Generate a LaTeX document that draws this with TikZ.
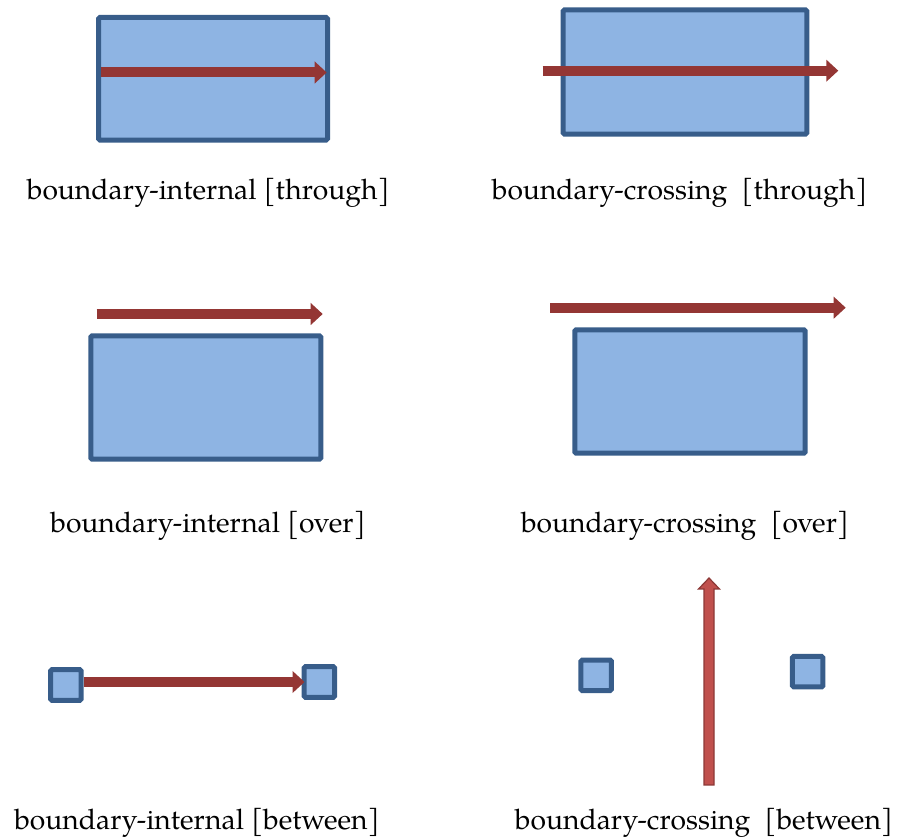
\documentclass[tikz,border=0pt]{standalone}
\usepackage{fontspec}
\setmainfont{TeX Gyre Pagella}
\usepackage{tikz}
\usetikzlibrary{calc,arrows.meta}
\definecolor{boxfill}{HTML}{8EB4E3}
\definecolor{boxline}{HTML}{385D8A}
\definecolor{flowred}{HTML}{943634}
\definecolor{uprfill}{HTML}{C0504D}
\definecolor{uprline}{HTML}{8C3836}
\tikzset{
	box/.style={draw=boxline, fill=boxfill, line width=3.75pt, rounded corners=1pt, inner sep=0pt},
	flowarrow/.style={draw=flowred, line width=7.5pt, -{Triangle[width=16pt,length=9pt]}},
	caption/.style={anchor=base, inner sep=0pt, font=\fontsize{21.2}{26}\selectfont}
}
\def\upblock[#1](#2)(#3){\draw[#1] ($(#2)+(-5,0)$) -- ($(#3)+(-5,11)$) -- ($(#3)+(-10.5,11)$) -- (#3) -- ($(#3)+(10.5,11)$) -- ($(#3)+(5,11)$) -- ($(#2)+(5,0)$) -- cycle;}

\begin{document}
\begin{tikzpicture}[x=0.75pt, y=-0.75pt]
			%%%%% START %%%%%
			
			\useasboundingbox (0, 0) rectangle (901, 837);
			
			% through
			\node[box, minimum width=171.75pt, minimum height=91.9pt] (thru in) at (213, 78.75) {};
			\coordinate (thru in a) at (100.7, 72.5);
			\coordinate (thru in b) at (326.7, 72.5);
			\draw[flowarrow] (thru in a) -- (thru in b);
			\node[caption] (cap thru in) at (208.3, 200) {boundary-internal [through]};
			
			\node[box, minimum width=182.7pt, minimum height=93.3pt] (thru cross) at (685, 72) {};
			\coordinate (thru cross a) at (542.7, 70.7);
			\coordinate (thru cross b) at (838.3, 70.7);
			\draw[flowarrow] (thru cross a) -- (thru cross b);
			\node[caption] (cap thru cross) at (679.7, 200) {boundary-crossing\ \ [through]};
			
			% over
			\coordinate (over in a) at (96.7, 314);
			\coordinate (over in b) at (322.7, 314);
			\draw[flowarrow] (over in a) -- (over in b);
			\node[box, minimum width=172.5pt, minimum height=92.55pt] (over in) at (205.8, 397.5) {};
			\node[caption] (cap over in) at (208, 533) {boundary-internal [over]};
			
			\coordinate (over cross a) at (550, 307.7);
			\coordinate (over cross b) at (845.7, 307.7);
			\draw[flowarrow] (over cross a) -- (over cross b);
			\node[box, minimum width=172.8pt, minimum height=92.55pt] (over cross) at (690, 391.5) {};
			\node[caption] (cap over cross) at (685, 533) {boundary-crossing\ \ [over]};
			
			% between
			\node[box, minimum width=22.9pt, minimum height=22.9pt] (sq in a) at (65.8, 685) {};
			\node[box, minimum width=22.9pt, minimum height=22.9pt] (sq in b) at (319.3, 682) {};
			\draw[flowarrow, shorten >=-2.25pt] (sq in a.east |- sq in b.west) -- (sq in b.west);
			\node[caption] (cap betw in) at (197, 830) {boundary-internal [between]};
			
			\node[box, minimum width=22.9pt, minimum height=22.9pt] (sq cross a) at (596.2, 675.3) {};
			\node[box, minimum width=22.9pt, minimum height=22.9pt] (sq cross b) at (807.7, 671.7) {};
			\coordinate (up foot) at (709, 785);
			\coordinate (up tip) at (709, 578);
			\upblock[draw=uprline, fill=uprfill, line width=0.9pt, line join=miter](up foot)(up tip)
			\node[caption] (cap betw cross) at (704, 830) {boundary-crossing\ \ [between]};
			
			%%%%% END %%%%%
		\end{tikzpicture}
\end{document}
